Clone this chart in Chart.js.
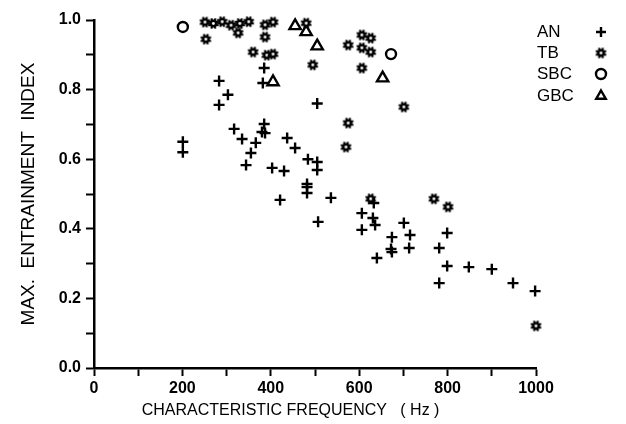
<!DOCTYPE html>
<html><head><meta charset="utf-8">
<script src="https://cdn.jsdelivr.net/npm/chart.js@4/dist/chart.umd.min.js"></script>
<style>html,body{margin:0;padding:0;background:#fff;}#wrap{width:626px;height:424px;}</style>
</head><body><div id="wrap"><canvas id="c" width="626" height="424"></canvas></div>
<script>
// ---- data ----
const seriesNames = ['AN', 'TB', 'SBC', 'GBC'];

const anFreq  = [201, 201, 283, 303, 283, 505, 385, 382, 317, 385, 380, 387, 335, 366, 355, 344, 437, 455, 403, 430, 484, 505, 505, 482, 482, 482, 421, 536, 507, 633, 606, 631, 636, 606, 701, 674, 715, 674, 672, 713, 640, 799, 781, 799, 848, 900, 781, 948, 998];
const anIndex = [0.65, 0.62, 0.825, 0.785, 0.756, 0.76, 0.862, 0.819, 0.687, 0.701, 0.678, 0.675, 0.658, 0.647, 0.618, 0.583, 0.661, 0.632, 0.575, 0.566, 0.60, 0.592, 0.569, 0.529, 0.52, 0.503, 0.483, 0.489, 0.42, 0.474, 0.445, 0.431, 0.411, 0.397, 0.417, 0.376, 0.382, 0.333, 0.342, 0.345, 0.316, 0.388, 0.345, 0.293, 0.29, 0.284, 0.244, 0.244, 0.221];

const tbFreq  = [251, 270, 290, 310, 330, 350, 326, 253, 387, 405, 387, 480, 575, 360, 391, 405, 495, 606, 626, 606, 626, 606, 701, 575, 570, 626, 769, 801, 1000];
const tbIndex = [0.994, 0.99, 0.995, 0.985, 0.99, 0.995, 0.963, 0.945, 0.986, 0.994, 0.951, 0.991, 0.928, 0.908, 0.899, 0.902, 0.871, 0.957, 0.948, 0.92, 0.908, 0.862, 0.75, 0.704, 0.635, 0.486, 0.486, 0.463, 0.121];

const sbcFreq  = [201, 672];
const sbcIndex = [0.98, 0.902];

const gbcFreq  = [455, 480, 505, 405, 653];
const gbcIndex = [0.983, 0.966, 0.925, 0.822, 0.833];

const xTickLabels = ['0', '', '200', '', '400', '', '600', '', '800', '', '1000'];
const yTickLabels = ['0.0', '', '0.2', '', '0.4', '', '0.6', '', '0.8', '', '1.0'];

const xTitle = 'CHARACTERISTIC FREQUENCY   ( Hz )           ';
const yTitle = 'MAX.  ENTRAINMENT  INDEX';

// ---- marker for TB ----
function makeTB() {
  const c = document.createElement('canvas'); c.width = 13; c.height = 13;
  const g = c.getContext('2d'); g.translate(6.5, 6.5);
  g.strokeStyle = '#000'; g.lineWidth = 2;
  for (let k = 0; k < 8; k++) {
    const a = k * Math.PI / 4 + Math.PI / 8;
    g.beginPath(); g.moveTo(0, 0); g.lineTo(Math.cos(a) * 5.6, Math.sin(a) * 5.6); g.stroke();
  }
  g.fillStyle = '#000'; g.beginPath(); g.arc(0, 0, 4.1, 0, 2 * Math.PI); g.fill();
  g.fillStyle = '#fff'; g.beginPath(); g.arc(0, 0, 1.4, 0, 2 * Math.PI); g.fill();
  return c;
}
const tbImg = makeTB();

const pts = (xs, ys) => xs.map((x, i) => ({ x: x, y: ys[i] }));

const datasets = [
  { label: seriesNames[0], data: pts(anFreq, anIndex), pointStyle: 'cross', pointRadius: 5.5, pointBorderWidth: 2.4, borderColor: '#000', backgroundColor: '#000', clip: false },
  { label: seriesNames[1], data: pts(tbFreq, tbIndex), pointStyle: tbImg, pointRadius: 6, pointBorderWidth: 1, borderColor: '#000', backgroundColor: '#000', clip: false },
  { label: seriesNames[2], data: pts(sbcFreq, sbcIndex), pointStyle: 'circle', pointRadius: 5, pointBorderWidth: 2.4, borderColor: '#000', backgroundColor: 'rgba(0,0,0,0)', clip: false },
  { label: seriesNames[3], data: pts(gbcFreq, gbcIndex), pointStyle: 'triangle', pointRadius: 6.5, pointBorderWidth: 2.4, borderColor: '#000', backgroundColor: 'rgba(0,0,0,0)', clip: false }
];

const legendPlugin = {
  id: 'sideLegend',
  afterDraw(chart) {
    const ctx = chart.ctx;
    const ys = [32, 53, 74, 96];
    ctx.save();
    ctx.font = '17px "Liberation Sans", Arial, sans-serif';
    ctx.textBaseline = 'middle';
    ctx.textAlign = 'left';
    chart.data.datasets.forEach((ds, i) => {
      ctx.fillStyle = '#000';
      ctx.fillText(ds.label, 537, ys[i]);
      ctx.strokeStyle = '#000';
      ctx.fillStyle = ds.backgroundColor;
      ctx.lineWidth = ds.pointBorderWidth;
      Chart.helpers.drawPoint(ctx, { pointStyle: ds.pointStyle, rotation: 0, radius: i === 3 ? 5.5 : 5, borderWidth: ds.pointBorderWidth }, 601, ys[i]);
    });
    ctx.restore();
  }
};

const tickFont = { family: '"Liberation Sans", Arial, sans-serif', size: 16, weight: 'bold' };

new Chart(document.getElementById('c'), {
  type: 'scatter',
  data: { datasets: datasets },
  options: {
    responsive: false,
    animation: false,
    devicePixelRatio: 1,
    layout: { padding: { top: 20, right: 90, left: 0, bottom: 0 } },
    plugins: { legend: { display: false }, tooltip: { enabled: false } },
    events: [],
    scales: {
      x: {
        type: 'linear', min: 0, max: 1000,
        afterFit(s) { s.height = 56; },
        ticks: { stepSize: 100, autoSkip: false, maxRotation: 0, color: '#000', font: tickFont, padding: 3,
                 callback: (v, i) => xTickLabels[i] },
        grid: { display: true, drawOnChartArea: false, drawTicks: true, tickLength: 8, tickWidth: 2, color: '#000' },
        border: { display: true, color: '#000', width: 2.5 },
        title: { display: true, text: xTitle, color: '#000', font: { family: '"Liberation Sans", Arial, sans-serif', size: 16 }, padding: { top: 0, bottom: 4 } }
      },
      y: {
        type: 'linear', min: 0, max: 1,
        afterFit(s) { s.width = 94; },
        ticks: { stepSize: 0.1, autoSkip: false, color: '#000', font: tickFont, padding: 5,
                 callback: (v, i) => yTickLabels[i] },
        grid: { display: true, drawOnChartArea: false, drawTicks: true, tickLength: 8, tickWidth: 2, color: '#000' },
        border: { display: true, color: '#000', width: 2.5 },
        title: { display: true, text: yTitle, color: '#000', font: { family: '"Liberation Sans", Arial, sans-serif', size: 19 }, padding: { top: 17, bottom: 0 } }
      }
    }
  },
  plugins: [legendPlugin]
});
</script>
</body></html>
